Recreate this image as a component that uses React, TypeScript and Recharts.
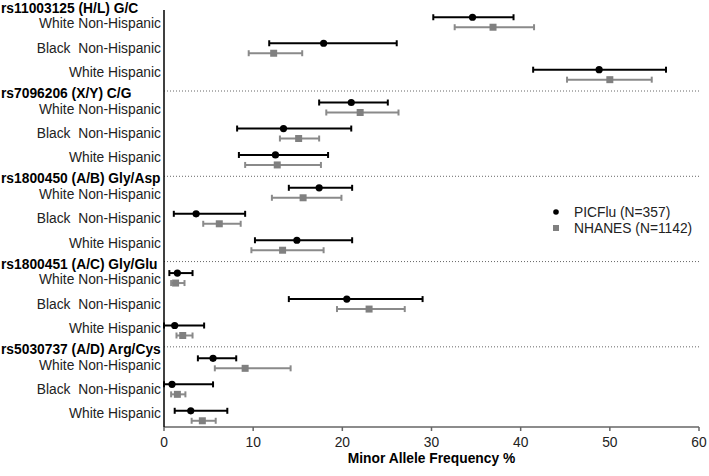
import React from 'react';
import {
  ScatterChart, Scatter, XAxis, YAxis, ErrorBar, ReferenceLine, Legend,
} from 'recharts';

const groups = [
  'rs11003125 (H/L) G/C',
  'rs7096206 (X/Y) C/G',
  'rs1800450 (A/B) Gly/Asp',
  'rs1800451 (A/C) Gly/Glu',
  'rs5030737 (A/D) Arg/Cys',
];
const populations = ['White Non-Hispanic', 'Black  Non-Hispanic', 'White Hispanic'];
const seriesNames = ['PICFlu (N=357)', 'NHANES (N=1142)'];

// order: group by group, populations within group
const picMean = [34.6, 17.9, 48.8, 21.0, 13.4, 12.5, 17.4, 3.6, 14.9, 1.5, 20.5, 1.2, 5.5, 0.9, 3.0];
const picLow = [30.2, 11.8, 41.4, 17.4, 8.2, 8.4, 14.0, 1.1, 10.2, 0.6, 14.0, 0.0, 3.8, 0.0, 1.2];
const picHigh = [39.2, 26.1, 56.3, 25.1, 21.0, 18.4, 21.1, 9.1, 21.1, 3.2, 29.0, 4.5, 8.1, 5.5, 7.1];
const nhMean = [36.9, 12.3, 50.0, 22.0, 15.1, 12.7, 15.6, 6.2, 13.3, 1.3, 23.0, 2.1, 9.1, 1.5, 4.3];
const nhLow = [32.6, 9.5, 45.2, 18.2, 13.0, 9.1, 12.1, 4.4, 9.8, 0.8, 19.4, 1.4, 5.7, 0.8, 3.1];
const nhHigh = [41.5, 15.5, 54.7, 26.3, 17.4, 17.6, 19.9, 8.6, 17.9, 2.3, 27.0, 3.2, 14.2, 2.4, 5.8];

const xTicks = [0, 10, 20, 30, 40, 50, 60];

// layout within a group (1 unit = one group band)
const ROW_OFF = [0.135, 0.44, 0.75];
const SQ_SHIFT = 0.117;
const LABEL_OFF = [0.21, 0.495, 0.78];
const HEADER_OFF = 0.05;

const FONT = '"Liberation Sans", Arial, sans-serif';

const picData = picMean.map((v, i) => {
  const g = Math.floor(i / 3);
  const r = i % 3;
  return { x: v, y: g + ROW_OFF[r], err: [v - picLow[i], picHigh[i] - v] };
});
const nhData = nhMean.map((v, i) => {
  const g = Math.floor(i / 3);
  const r = i % 3;
  return { x: v, y: g + ROW_OFF[r] + SQ_SHIFT, err: [v - nhLow[i], nhHigh[i] - v] };
});

const yLabels: { v: number; text: string; header: boolean }[] = [];
groups.forEach((name, g) => {
  yLabels.push({ v: g + HEADER_OFF, text: name, header: true });
  populations.forEach((p, r) => yLabels.push({ v: g + LABEL_OFF[r], text: p, header: false }));
});
const yTicks = yLabels.map((l) => l.v);

const YTick = (props: any) => {
  const { y, payload } = props;
  const lab = yLabels.find((l) => Math.abs(l.v - payload.value) < 1e-6);
  if (!lab) return null;
  if (lab.header) {
    return (
      <text x={1} y={y - 2} dy="0.35em" textAnchor="start" fontFamily={FONT} fontSize={13.8}
        fontWeight="bold" fill="#000">{lab.text}</text>
    );
  }
  return (
    <text x={161} y={y} dy="0.35em" textAnchor="end" fontFamily={FONT} fontSize={13.8}
      fill="#222" style={{ whiteSpace: 'pre' }}>{lab.text}</text>
  );
};

const CircleShape = (props: any) => <circle cx={props.cx} cy={props.cy} r={3.6} fill="#000" />;
const SquareShape = (props: any) => (
  <rect x={props.cx - 3.5} y={props.cy - 3.5} width={7} height={7} fill="#808080" />
);

const LegendContent = () => (
  <div style={{ fontFamily: FONT, fontSize: 13.8, color: '#222' }}>
    {seriesNames.map((n, i) => (
      <div key={n} style={{ display: 'flex', alignItems: 'center', height: 16 }}>
        <svg width={22} height={16} style={{ display: 'block' }}>
          {i === 0 ? (
            <circle cx={4} cy={8} r={2.8} fill="#000" />
          ) : (
            <rect x={1} y={5} width={6} height={6} fill="#808080" />
          )}
        </svg>
        <span style={{ whiteSpace: 'nowrap' }}>{n}</span>
      </div>
    ))}
  </div>
);

export default function App() {
  return (
    <div style={{ position: 'absolute', left: 0, top: 0, background: '#fff' }}>
      <ScatterChart width={709} height={476} margin={{ top: 10, right: 10, bottom: 0, left: 0 }}>
        <XAxis
          type="number"
          dataKey="x"
          domain={[0, 60]}
          ticks={xTicks}
          allowDataOverflow
          tickSize={4}
          tickMargin={6}
          height={49}
          axisLine={{ stroke: '#666', strokeWidth: 1.5 }}
          tickLine={{ stroke: '#666', strokeWidth: 1.5 }}
          tick={{ fill: '#222', fontSize: 13.8, fontFamily: FONT }}
          label={{
            value: 'Minor Allele Frequency %',
            position: 'insideBottom',
            offset: 13,
            style: { fontWeight: 'bold', fontSize: 13.8, fontFamily: FONT, fill: '#000' },
          }}
        />
        <YAxis
          type="number"
          dataKey="y"
          domain={[0.05, 4.94]}
          reversed
          allowDataOverflow
          ticks={yTicks}
          interval={0}
          width={164}
          tickLine={false}
          axisLine={{ stroke: '#000', strokeWidth: 1.5 }}
          tick={<YTick />}
        />
        {[1, 2, 3, 4].map((v) => (
          <ReferenceLine key={v} y={v} stroke="#666" strokeDasharray="1 2" strokeWidth={1} />
        ))}
        <Legend
          layout="vertical"
          align="center"
          verticalAlign="middle"
          content={<LegendContent />}
          wrapperStyle={{ position: 'absolute', left: 552, top: 204, width: 150, height: 34 }}
        />
        <Scatter name={seriesNames[0]} data={picData} shape={<CircleShape />} isAnimationActive={false}>
          <ErrorBar dataKey="err" direction="x" width={3} stroke="#000" strokeWidth={2} isAnimationActive={false} />
        </Scatter>
        <Scatter name={seriesNames[1]} data={nhData} shape={<SquareShape />} isAnimationActive={false}>
          <ErrorBar dataKey="err" direction="x" width={3} stroke="#8a8a8a" strokeWidth={2} isAnimationActive={false} />
        </Scatter>
      </ScatterChart>
    </div>
  );
}
